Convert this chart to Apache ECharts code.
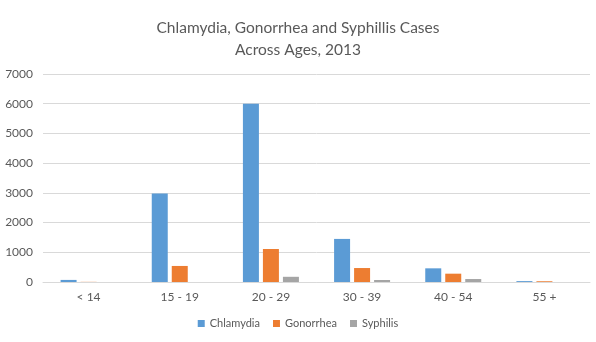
<!DOCTYPE html>
<html><head><meta charset="utf-8">
<script src="https://cdn.jsdelivr.net/npm/echarts@6/dist/echarts.min.js"></script>
<style>html,body{margin:0;padding:0;background:#fff}#c{width:596px;height:342px}</style>
</head><body><div id="c"></div>
<script>
const categories = ['< 14', '15 - 19', '20 - 29', '30 - 39', '40 - 54', '55 +'];
const chlamydia = [70, 2980, 6000, 1450, 460, 30];
const gonorrhea = [5, 540, 1110, 470, 280, 25];
const syphilis = [0, 0, 175, 67, 100, 0];
const yTicks = [0, 1000, 2000, 3000, 4000, 5000, 6000, 7000];

const chart = echarts.init(document.getElementById('c'), null, {renderer: 'canvas'});
const font = 'Lato';
chart.setOption({
  animation: false,
  title: {
    text: 'Chlamydia, Gonorrhea and Syphillis Cases\nAcross Ages, 2013',
    left: 'center', top: 12,
    textStyle: {fontFamily: font, fontWeight: 'normal', fontSize: 15.5, color: '#595959', lineHeight: 22}
  },
  legend: {
    bottom: 8, left: 'center', itemWidth: 7, itemHeight: 7, itemGap: 13,
    icon: 'rect',
    textStyle: {fontFamily: font, fontSize: 11, color: '#595959'}
  },
  grid: {left: 43, right: 6, top: 74, bottom: 60},
  xAxis: {
    type: 'category', data: categories,
    axisLine: {lineStyle: {color: '#d9d9d9'}},
    axisTick: {show: false},
    axisLabel: {fontFamily: font, fontSize: 12, color: '#595959', margin: 9}
  },
  yAxis: {
    type: 'value', min: yTicks[0], max: yTicks[yTicks.length - 1], interval: 1000,
    axisLine: {show: false}, axisTick: {show: false},
    splitLine: {lineStyle: {color: '#d9d9d9'}},
    axisLabel: {fontFamily: font, fontSize: 12, color: '#595959', margin: 10, formatter: v => String(v)}
  },
  series: [
    {name: 'Chlamydia', type: 'bar', data: chlamydia, barWidth: 16, barGap: '25%', itemStyle: {color: '#5b9bd5'}},
    {name: 'Gonorrhea', type: 'bar', data: gonorrhea, barWidth: 16, barGap: '25%', itemStyle: {color: '#ed7d31'}},
    {name: 'Syphilis', type: 'bar', data: syphilis, barWidth: 16, barGap: '25%', itemStyle: {color: '#a5a5a5'}}
  ]
});
</script></body></html>
